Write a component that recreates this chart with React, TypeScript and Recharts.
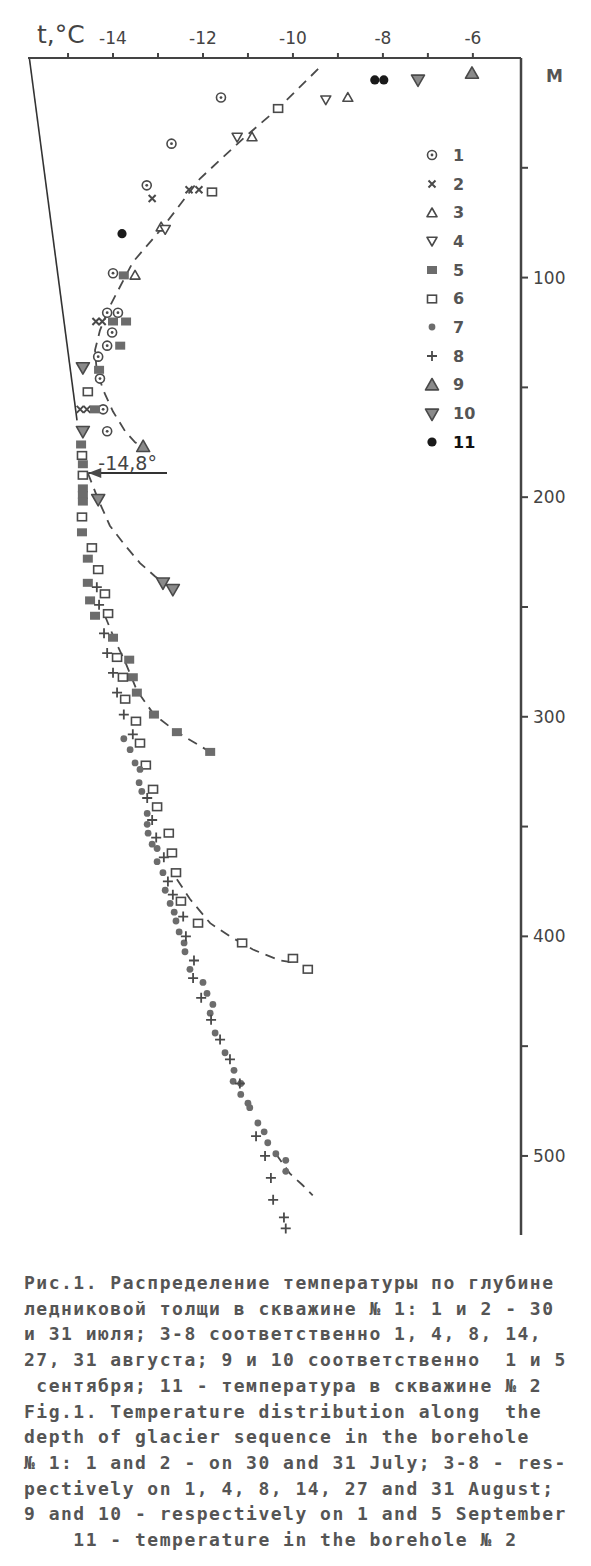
import React from "react";
import {
  ScatterChart,
  Scatter,
  XAxis,
  YAxis,
  ReferenceLine,
  ReferenceDot,
  Legend,
} from "recharts";

// точки: [температура °C, глубина м]
type P = [number, number];

const xTicks = [-15, -14, -13, -12, -11, -10, -9, -8, -7, -6];
const yTicks = [50, 100, 150, 200, 250, 300, 350, 400, 450, 500];

const s1: P[] = [[-11.6, 18], [-12.7, 39], [-13.25, 58], [-14.0, 98], [-14.13, 116], [-13.89, 116], [-14.02, 125], [-14.13, 131], [-14.33, 136], [-14.29, 146], [-14.22, 160], [-14.13, 170]];
const s2: P[] = [[-13.13, 64], [-12.31, 60], [-12.09, 60], [-14.38, 120], [-14.24, 120], [-14.73, 160], [-14.58, 160]];
const s3: P[] = [[-8.78, 18], [-10.91, 36], [-12.93, 77], [-13.51, 99]];
const s4: P[] = [[-9.27, 19], [-11.24, 36], [-12.84, 78]];
const s5: P[] = [[-13.76, 99], [-14.0, 120], [-13.71, 120], [-13.84, 131], [-14.31, 142], [-14.4, 160], [-14.71, 176], [-14.67, 185], [-14.67, 196], [-14.67, 199], [-14.67, 202], [-14.69, 216], [-14.56, 228], [-14.56, 239], [-14.51, 247], [-14.4, 254], [-14.0, 264], [-13.64, 274], [-13.56, 282], [-13.47, 289], [-13.09, 299], [-12.58, 307], [-11.84, 316]];
const s6: P[] = [[-10.33, 23], [-11.8, 61], [-14.56, 152], [-14.69, 181], [-14.67, 190], [-14.69, 209], [-14.47, 223], [-14.33, 233], [-14.18, 244], [-14.11, 253], [-13.91, 273], [-13.78, 282], [-13.73, 292], [-13.49, 302], [-13.4, 312], [-13.27, 322], [-13.11, 333], [-13.02, 341], [-12.76, 353], [-12.69, 362], [-12.6, 371], [-12.49, 384], [-12.11, 394], [-11.13, 403], [-10.0, 410], [-9.67, 415]];
const s7: P[] = [[-13.76, 310], [-13.62, 315], [-13.51, 321], [-13.4, 324], [-13.42, 330], [-13.36, 334], [-13.24, 344], [-13.24, 349], [-13.22, 353], [-13.13, 358], [-13.02, 360], [-13.02, 366], [-12.89, 371], [-12.84, 379], [-12.73, 385], [-12.64, 389], [-12.6, 393], [-12.53, 398], [-12.42, 403], [-12.4, 407], [-12.29, 415], [-12.0, 421], [-11.91, 426], [-11.78, 431], [-11.84, 435], [-11.73, 444], [-11.51, 453], [-11.31, 461], [-11.33, 466], [-11.16, 467], [-11.16, 472], [-11.0, 476], [-10.96, 478], [-10.78, 485], [-10.64, 489], [-10.56, 494], [-10.38, 499], [-10.16, 502], [-10.16, 507]];
const s8: P[] = [[-14.36, 241], [-14.31, 249], [-14.2, 262], [-14.13, 271], [-14.0, 280], [-13.91, 289], [-13.76, 299], [-13.56, 308], [-13.24, 337], [-13.13, 347], [-13.04, 355], [-12.87, 364], [-12.78, 375], [-12.67, 381], [-12.44, 391], [-12.38, 400], [-12.2, 411], [-12.22, 419], [-12.04, 428], [-11.82, 438], [-11.62, 447], [-11.4, 456], [-11.18, 467], [-10.82, 491], [-10.62, 500], [-10.49, 510], [-10.44, 520], [-10.2, 528], [-10.16, 533]];
const s9: P[] = [[-6.02, 7], [-13.33, 177]];
const s10: P[] = [[-7.22, 10], [-14.67, 141], [-14.67, 170], [-14.33, 201], [-12.89, 239], [-12.67, 242]];
const s11: P[] = [[-8.18, 10], [-7.98, 10], [-13.8, 80]];

// пунктирные кривые
const curveA: P[] = [[-9.44, 5], [-10.33, 23], [-11.07, 36], [-12.07, 55], [-12.89, 77], [-13.56, 93], [-14.07, 113], [-14.29, 124], [-14.4, 133], [-14.36, 143], [-14.18, 153], [-14.0, 161], [-13.73, 170], [-13.51, 175], [-13.33, 177]];
const curveB: P[] = [[-14.56, 189], [-14.33, 201], [-14.07, 213], [-13.73, 222], [-13.4, 230], [-13.07, 236], [-12.67, 242]];
const curveC: P[] = [[-14.18, 254], [-13.96, 265], [-13.73, 275], [-13.47, 288], [-13.09, 299], [-12.58, 307], [-11.84, 316]];
const curveD: P[] = [[-12.58, 374], [-12.29, 383], [-11.84, 394], [-11.4, 400], [-10.89, 406], [-10.29, 411], [-9.96, 412]];
const curveE: P[] = [[-10.38, 499], [-10.07, 508], [-9.8, 513], [-9.56, 518]];

const slantLine: P[] = [[-15.86, 0], [-14.8, 165]];
const minDepth = 189;
const minTemp = -14.55;
const arrowTail = -12.8;

const legendKeys = ["1", "2", "3", "4", "5", "6", "7", "8", "9", "10", "11"];

const caption = [
  "Рис.1. Распределение температуры по глубине",
  "ледниковой толщи в скважине № 1: 1 и 2 - 30",
  "и 31 июля; 3-8 соответственно 1, 4, 8, 14,",
  "27, 31 августа; 9 и 10 соответственно  1 и 5",
  " сентября; 11 - температура в скважине № 2",
  "Fig.1. Temperature distribution along  the",
  "depth of glacier sequence in the borehole",
  "№ 1: 1 and 2 - on 30 and 31 July; 3-8 - res-",
  "pectively on 1, 4, 8, 14, 27 and 31 August;",
  "9 and 10 - respectively on 1 and 5 September",
  "    11 - temperature in the borehole № 2",
];

const pts = (a: P[]) => a.map(([t, d]) => ({ t, d }));

const INK = "#4a4a4a";
const GREY = "#6c6c6c";

const ring = ({ cx, cy }: any) => (
  <g>
    <circle cx={cx} cy={cy} r={4.5} fill="#fff" stroke={INK} strokeWidth={1.6} />
    <circle cx={cx} cy={cy} r={1.4} fill={INK} />
  </g>
);
const cross = ({ cx, cy }: any) => (
  <path
    d={`M${cx - 3.5},${cy - 3.5}L${cx + 3.5},${cy + 3.5}M${cx + 3.5},${cy - 3.5}L${cx - 3.5},${cy + 3.5}`}
    stroke={INK}
    strokeWidth={2}
  />
);
const tri = (up: boolean, s: number, fill: string) => ({ cx, cy }: any) => {
  const b = s * 0.75;
  const p = up
    ? `${cx},${cy - s} ${cx + s},${cy + b} ${cx - s},${cy + b}`
    : `${cx},${cy + s} ${cx + s},${cy - b} ${cx - s},${cy - b}`;
  return <polygon points={p} fill={fill} stroke={INK} strokeWidth={1.6} strokeLinejoin="round" />;
};
const sqFull = ({ cx, cy }: any) => (
  <rect x={cx - 5} y={cy - 4} width={10} height={8} fill={GREY} />
);
const sqOpen = ({ cx, cy }: any) => (
  <rect x={cx - 4.5} y={cy - 3.8} width={9} height={7.6} fill="#fff" stroke={INK} strokeWidth={1.6} />
);
const dot = ({ cx, cy }: any) => <circle cx={cx} cy={cy} r={3.4} fill={GREY} />;
const plus = ({ cx, cy }: any) => (
  <path d={`M${cx - 5},${cy}H${cx + 5}M${cx},${cy - 5}V${cy + 5}`} stroke={INK} strokeWidth={1.8} />
);
const blackDot = ({ cx, cy }: any) => <circle cx={cx} cy={cy} r={4.6} fill="#1a1a1a" />;
const none = () => <g />;

const markers: Record<string, (p: any) => React.ReactElement> = {
  "1": ring,
  "2": cross,
  "3": tri(true, 5, "#fff"),
  "4": tri(false, 5, "#fff"),
  "5": sqFull,
  "6": sqOpen,
  "7": dot,
  "8": plus,
  "9": tri(true, 6.5, "#8a8a8a"),
  "10": tri(false, 6.5, "#8a8a8a"),
  "11": blackDot,
};

const series: [string, P[]][] = [
  ["1", s1], ["2", s2], ["3", s3], ["4", s4], ["5", s5], ["6", s6],
  ["7", s7], ["8", s8], ["9", s9], ["10", s10], ["11", s11],
];
const curves: P[][] = [curveA, curveB, curveC, curveD, curveE];

const dashed = { stroke: INK, strokeWidth: 1.8, strokeDasharray: "10 7", fill: "none" };

const renderLegend = () => (
  <div style={{ fontFamily: "DejaVu Sans", fontSize: 16, color: "#555", fontWeight: "bold" }}>
    {legendKeys.map((k) => (
      <div key={k} style={{ display: "flex", alignItems: "center", height: 28.7 }}>
        <svg width={20} height={20}>{markers[k]({ cx: 10, cy: 10 })}</svg>
        <span style={{ marginLeft: 11, color: k === "11" ? "#111" : "#555" }}>{k}</span>
      </div>
    ))}
  </div>
);

const arrowHead = ({ cx, cy }: any) => (
  <polygon points={`${cx},${cy} ${cx + 13},${cy - 5} ${cx + 13},${cy + 5}`} fill={INK} />
);

export default function App() {
  return (
    <div
      style={{
        position: "absolute",
        left: 0,
        top: 0,
        width: 591,
        height: 1566,
        background: "#fff",
        fontFamily: "DejaVu Sans",
      }}
    >
      <ScatterChart
        width={591}
        height={1240}
        margin={{ top: 28, right: 10, bottom: 5, left: 28 }}
      >
        <XAxis
          type="number"
          dataKey="t"
          orientation="top"
          height={30}
          domain={[-15.89, -4.93]}
          ticks={xTicks}
          interval={0}
          tickFormatter={(v: number) => (v % 2 === 0 ? String(v) : "")}
          tick={{ fill: "#444", fontSize: 17 }}
          tickSize={5}
          tickMargin={9}
          axisLine={{ stroke: "#444", strokeWidth: 2 }}
          tickLine={{ stroke: "#444", strokeWidth: 2 }}
        />
        <YAxis
          type="number"
          dataKey="d"
          orientation="right"
          reversed
          width={60}
          domain={[0, 536]}
          ticks={yTicks}
          interval={0}
          tickFormatter={(v: number) => (v % 100 === 0 ? String(v) : "")}
          tick={{ fill: "#444", fontSize: 17 }}
          tickSize={7}
          tickMargin={5}
          axisLine={{ stroke: "#444", strokeWidth: 2.5 }}
          tickLine={{ stroke: "#444", strokeWidth: 2 }}
        />
        <ReferenceLine
          segment={slantLine.map(([t, d]) => ({ x: t, y: d }))}
          stroke="#333"
          strokeWidth={1.6}
        />
        <ReferenceLine
          segment={[{ x: minTemp, y: minDepth }, { x: arrowTail, y: minDepth }]}
          stroke="#333"
          strokeWidth={2}
          label={{ value: "-14,8°", position: "top", offset: 3, fill: "#444", fontSize: 19 }}
        />
        <ReferenceDot x={minTemp} y={minDepth} shape={arrowHead} />
        {curves.map((c, i) => (
          <Scatter
            key={`curve-${i}`}
            data={pts(c)}
            line={dashed}
            shape={none}
            isAnimationActive={false}
          />
        ))}
        {series.map(([k, s]) => (
          <Scatter
            key={`s-${k}`}
            name={k}
            data={pts(s)}
            shape={markers[k]}
            isAnimationActive={false}
          />
        ))}
        <Legend
          content={renderLegend}
          layout="vertical"
          align="center"
          verticalAlign="middle"
          wrapperStyle={{ left: 422, top: 141, width: 70 }}
        />
      </ScatterChart>

      <div
        style={{
          position: "absolute",
          left: 37,
          top: 20,
          fontSize: 25,
          color: "#444",
          fontFamily: "DejaVu Sans",
        }}
      >
        t,°C
      </div>
      <div
        style={{
          position: "absolute",
          left: 546,
          top: 66,
          fontSize: 17,
          fontWeight: "bold",
          color: "#555",
        }}
      >
        М
      </div>

      <div
        style={{
          position: "absolute",
          left: 24,
          top: 1270,
          fontFamily: "DejaVu Sans Mono",
          fontSize: 18,
          letterSpacing: 1.5,
          lineHeight: "25.7px",
          whiteSpace: "pre",
          color: "#555",
          fontWeight: "bold",
        }}
      >
        {caption.map((l, i) => (
          <div key={i}>{l}</div>
        ))}
      </div>
    </div>
  );
}
